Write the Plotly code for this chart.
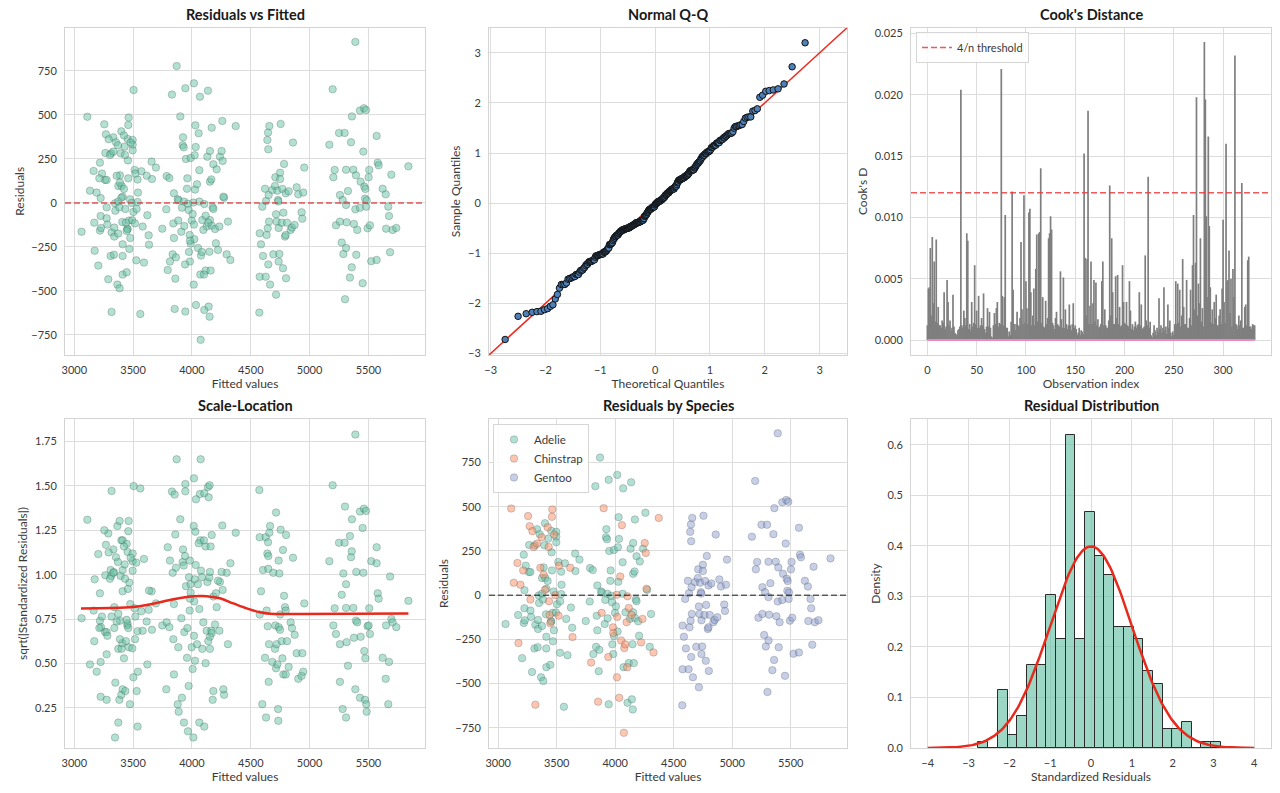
import numpy as np
import plotly.graph_objects as go
from statistics import NormalDist

# ---------------- data ----------------
adelie_fitted = [3062, 3170, 3204, 3218, 3218, 3224, 3224, 3235, 3227, 3261,
                 3264, 3275, 3275, 3281, 3289, 3309, 3314, 3317, 3332, 3337,
                 3340, 3340, 3346, 3349, 3354, 3366, 3374, 3374, 3374, 3383,
                 3385, 3388, 3394, 3400, 3402, 3408, 3411, 3411, 3411, 3411,
                 3422, 3428, 3445, 3451, 3453, 3453, 3456, 3459, 3465, 3468,
                 3473, 3476, 3493, 3496, 3496, 3496, 3502, 3513, 3527, 3530,
                 3538, 3541, 3538, 3561, 3570, 3581, 3592, 3621, 3632, 3657,
                 3660, 3694,
                 3748, 3782, 3785, 3808, 3813, 3830, 3836, 3842, 3847, 3847,
                 3859, 3864, 3870, 3879, 3887, 3910, 3915, 3921, 3924, 3930,
                 3932, 3935, 3944, 3944, 3949, 3958, 3961, 3966, 3972, 3975,
                 3983, 3989, 3989, 3998, 4006, 4017, 4020, 4023, 4026, 4029,
                 4032, 4063, 4063, 4068, 4071, 4088, 4105, 4116, 4125, 4131,
                 4136, 4142, 4148, 4150, 4153, 4159, 4153, 4153, 4165, 4168,
                 4168, 4176, 4182, 4182, 4196, 4210, 4204, 4238, 4258, 4273,
                 4295, 4306]
adelie_resid = [-163, -112, -356, 229, -157, 28, -74, 167, -142, 131,
                284, 131, -87, -123, -434, -301, 282, -167, 373, -294,
                -191, -140, -2, -44, 345, -464, 97, 8, -174, -25,
                -485, 157, 282, 407, 97, -108, 36, -235, -301, -407,
                80, 320, -394, -146, 364, -150, 242, 140, -100, -261,
                21, -199, -98, 358, 331, 299, -51, 188, -326, -34,
                133, 59, 6, -631, 180, -134, -339, -70, -184, 235,
                136, 201,
                -146, -36, 153, 142, -333, 616, -292, -116, -199, 55,
                -430, -309, 778, 21, 15, -163, -27, 328, 373, 316,
                8, -131, -617, 652, 250, 81, 140, -4, -40, -278,
                -333, -231, 256, -100, -63, 680, -206, 271, 76, 441,
                318, 186, 8, 604, -407, -97, -608, -384, -134, 263,
                638, -589, -277, -646, 121, -384, 295, -97, 134, 428,
                -129, -25, 220, -34, -148, 191, -229, 263, 466, 30,
                -292, -106]

chinstrap_fitted = [3111, 3133, 3164, 3173, 3190, 3213, 3255, 3269, 3275, 3292,
                    3303, 3317, 3332, 3360, 3371, 3388, 3400, 3422, 3431, 3434,
                    3439, 3445, 3462, 3459, 3479, 3487, 3504, 3519, 3516, 3615,
                    3635,
                    3794, 3853, 3884, 3901, 3941, 3981, 3983, 4012, 4015, 4017,
                    4034, 4043, 4051, 4057, 4074, 4077, 4085, 4097, 4102, 4105,
                    4116, 4139, 4221, 4233, 4252, 4261, 4267, 4327, 4372]
chinstrap_resid = [490, 70, 182, -271, 59, 140, 447, 390, -25, 362,
                   273, -619, 292, 155, 328, 116, 30, 384, 273, -34,
                   -112, -159, 485, 443, 343, 0, 642, 167, -116, 155,
                   -237,
                   -381, -602, -100, 492, -349, -182, -214, 2, -464, -123,
                   -580, 106, -256, 396, -778, -299, -278, -153, -407, -6,
                   -72, -112, -267, -134, 295, 239, 36, -324, 437]

gentoo_fitted = [4573, 4576, 4576, 4587, 4598, 4604, 4621, 4627, 4630, 4635,
                 4641, 4644, 4649, 4647, 4649, 4652, 4655, 4658, 4664, 4683,
                 4692, 4706, 4709, 4715, 4715, 4720, 4726, 4732, 4734, 4737,
                 4737, 4743, 4749, 4749, 4754, 4763, 4769, 4774, 4777, 4783,
                 4791, 4797, 4797, 4800, 4808, 4822, 4839, 4850, 4859, 4873,
                 4890, 4904, 4932, 4938, 4946, 4955,
                 5168, 5196, 5202, 5213, 5224, 5250, 5258, 5258, 5273, 5281,
                 5287, 5298, 5301, 5310, 5310, 5310, 5315, 5326, 5343, 5352,
                 5358, 5360, 5372, 5377, 5389, 5389, 5394, 5397, 5405, 5428,
                 5428, 5434, 5451, 5457, 5462, 5465, 5471, 5474, 5479, 5482,
                 5485, 5493, 5502, 5507, 5513, 5524, 5570, 5570, 5579, 5587,
                 5621, 5647, 5650, 5669, 5675, 5684, 5695, 5706, 5737, 5840]
gentoo_resid = [-623, -419, -172, -235, -21, -301, 81, -419, 11, -182,
                358, -144, 305, 400, -349, 45, -106, 437, -464, 74,
                -292, 97, 146, -64, -521, -106, 70, 17, 9, -333,
                -142, -290, 172, 136, 449, -112, 80, -371, -55, 222,
                -191, -182, 55, -428, -112, 66, -153, -140, 343, -125,
                89, 49, -53, -89, 59, 201,
                331, 646, 146, 188, -127, 398, 45, -106, -225, 17,
                -290, 398, -547, 189, -256, -11, -110, 68, -424, 345,
                -366, 492, 189, -119, -36, 915, 157, -295, -153, 525,
                -27, 121, -456, 292, 538, 93, 25, 80, 528, -21,
                15, -144, 146, 188, -127, -331, -324, 381, 229, 214,
                81, 49, -146, -21, -74, -280, 161, -153, -142, 208]

resid_std = 286.0  # residual scale (915 -> 3.2 on the Q-Q plot)

# Cook's distance per observation, in units of 1e-4
cooks_d_e4 = [12, 42, 43, 75, 20, 84, 30, 64, 15, 82, 14, 27, 12, 12, 10, 16, 14, 39, 9, 11,
              49, 31, 12, 16, 8, 10, 37, 11, 6, 5, 4, 8, 9, 11, 204, 12, 10, 24, 18, 12,
              87, 81, 9, 13, 8, 31, 11, 14, 61, 13, 24, 10, 36, 10, 12, 18, 12, 38, 9, 6,
              11, 26, 11, 23, 10, 3, 2, 12, 22, 13, 26, 31, 11, 14, 13, 221, 36, 12, 35, 102,
              10, 10, 3, 7, 4, 15, 121, 41, 13, 8, 13, 23, 12, 11, 18, 80, 25, 13, 118, 14,
              48, 26, 13, 104, 107, 39, 12, 20, 42, 12, 58, 86, 15, 87, 88, 140, 14, 35, 11, 10,
              32, 13, 18, 83, 87, 101, 90, 14, 12, 9, 18, 23, 13, 12, 11, 56, 17, 10, 51, 10,
              25, 13, 9, 12, 29, 12, 8, 13, 30, 10, 12, 9, 4, 6, 10, 4, 8, 7, 5, 152,
              67, 20, 66, 187, 13, 28, 64, 13, 30, 49, 15, 47, 12, 17, 10, 11, 13, 48, 64, 12,
              25, 12, 10, 10, 16, 126, 20, 83, 39, 13, 13, 52, 18, 53, 13, 27, 11, 12, 61, 31,
              14, 13, 31, 12, 11, 48, 24, 9, 13, 8, 11, 15, 10, 12, 13, 39, 12, 29, 9, 10,
              11, 69, 16, 12, 133, 10, 15, 4, 2, 6, 12, 8, 4, 10, 7, 34, 9, 12, 6, 10,
              43, 8, 11, 5, 29, 10, 16, 6, 3, 7, 4, 13, 48, 13, 46, 14, 41, 11, 20, 66,
              27, 13, 13, 49, 10, 10, 18, 41, 12, 61, 102, 25, 63, 198, 20, 46, 30, 83, 15, 26,
              11, 243, 196, 101, 35, 166, 93, 43, 14, 25, 13, 31, 18, 37, 12, 12, 20, 25, 13, 42,
              98, 31, 14, 160, 48, 49, 73, 22, 50, 11, 58, 35, 232, 13, 12, 9, 20, 12, 16, 128,
              10, 10, 27, 29, 12, 65, 68, 11, 11, 9, 13, 12, 12]
cooks_threshold = 4 / 333

# Histogram of standardized residuals (25 bins)
hist_start = -2.757
hist_width = 0.2375
hist_counts = [1, 0, 9, 2, 5, 13, 13, 24, 17, 49, 17, 37, 30, 27, 19, 19, 17, 12, 10, 3,
               3, 4, 0, 1, 1]

# LOWESS smooth on the scale-location plot
lowess_x = [3057, 3303, 3502, 3615, 3728, 3842, 3955, 4068, 4125, 4238, 4352, 4465,
            4578, 4664, 4919, 5840]
lowess_y = [0.810, 0.812, 0.818, 0.829, 0.845, 0.862, 0.874, 0.880, 0.879, 0.867,
            0.838, 0.810, 0.788, 0.780, 0.779, 0.782]

# ---------------- derived ----------------
GREEN, ORANGE, BLUE, PINK = '#66c2a5', '#fc8d62', '#8da0cb', '#e78ac3'
RED = '#e8291c'
FONT = 'Lato, "Source Sans Pro", "Noto Sans", sans-serif'
TXT = '#3a3a3a'

fitted_all = np.array(adelie_fitted + chinstrap_fitted + gentoo_fitted, float)
resid_all = np.array(adelie_resid + chinstrap_resid + gentoo_resid, float)
std_resid = resid_all / resid_std
sqrt_abs = np.sqrt(np.abs(std_resid))

n = len(std_resid)
sample_q = np.sort(std_resid)
nd = NormalDist()
theo_q = np.array([nd.inv_cdf(i / (n + 1)) for i in range(1, n + 1)])

cooks_d = [v / 10000 for v in cooks_d_e4]
idx = list(range(len(cooks_d)))
stem_x, stem_y = [], []
for i, d in zip(idx, cooks_d):
    stem_x += [i, i, None]
    stem_y += [0, d, None]

hist_centers = [hist_start + hist_width * (i + 0.5) for i in range(len(hist_counts))]
hist_density = [c / (sum(hist_counts) * hist_width) for c in hist_counts]
curve_x = np.linspace(-4, 4, 200)
curve_y = np.exp(-curve_x ** 2 / 2) / np.sqrt(2 * np.pi)

# ---------------- figure ----------------
W, H = 1280, 793
colx = [(65, 425), (489, 847), (911, 1271)]
rowy = [(27.7, 355), (419, 748)]


def xd(c):
    return [colx[c][0] / W, colx[c][1] / W]


def yd(r):
    return [1 - rowy[r][1] / H, 1 - rowy[r][0] / H]


fig = go.Figure()

scat_marker = dict(size=7.5, color='rgba(102,194,165,0.5)',
                   line=dict(color='rgba(40,60,50,0.35)', width=0.7))

# 1 Residuals vs Fitted
fig.add_trace(go.Scatter(x=fitted_all, y=resid_all, mode='markers', marker=scat_marker,
                         showlegend=False, xaxis='x', yaxis='y'))

# 2 Q-Q
fig.add_trace(go.Scatter(x=[-3.03, 3.5], y=[-3.03, 3.5], mode='lines',
                         line=dict(color='#ee2a1f', width=1.5), showlegend=False,
                         xaxis='x2', yaxis='y2'))
fig.add_trace(go.Scatter(x=theo_q, y=sample_q, mode='markers',
                         marker=dict(size=6.5, color='#4f81b8', line=dict(color='#111', width=1)),
                         showlegend=False, xaxis='x2', yaxis='y2'))

# 3 Cook's distance
fig.add_trace(go.Scatter(x=stem_x, y=stem_y, mode='lines',
                         line=dict(color='#7f7f7f', width=1.7), showlegend=False,
                         xaxis='x3', yaxis='y3', connectgaps=False))
fig.add_trace(go.Scatter(x=[idx[0], idx[-1]], y=[0, 0], mode='lines',
                         line=dict(color=PINK, width=2), showlegend=False,
                         xaxis='x3', yaxis='y3'))
fig.add_trace(go.Scatter(x=[-16.6, 348.6], y=[cooks_threshold] * 2, mode='lines',
                         line=dict(color='rgba(235,60,60,0.85)', width=1.5, dash='6px,3px'),
                         name='4/n threshold', legend='legend2', showlegend=True,
                         xaxis='x3', yaxis='y3'))

# 4 Scale-Location
fig.add_trace(go.Scatter(x=fitted_all, y=sqrt_abs, mode='markers', marker=scat_marker,
                         showlegend=False, xaxis='x4', yaxis='y4'))
fig.add_trace(go.Scatter(x=lowess_x, y=lowess_y, mode='lines', line=dict(color=RED, width=2.5),
                         line_shape='spline', showlegend=False, xaxis='x4', yaxis='y4'))

# 5 Residuals by species
for name, fx, ry, col in [('Adelie', adelie_fitted, adelie_resid, (102, 194, 165)),
                          ('Chinstrap', chinstrap_fitted, chinstrap_resid, (252, 141, 98)),
                          ('Gentoo', gentoo_fitted, gentoo_resid, (141, 160, 203))]:
    fig.add_trace(go.Scatter(x=fx, y=ry, mode='markers', name=name,
                             marker=dict(size=7.5, color='rgba(%d,%d,%d,0.5)' % col,
                                         line=dict(color='rgba(40,40,60,0.3)', width=0.7)),
                             legend='legend', xaxis='x5', yaxis='y5'))

# 6 Residual distribution
fig.add_trace(go.Bar(x=hist_centers, y=hist_density, width=hist_width,
                     marker=dict(color='rgba(102,194,165,0.65)', line=dict(color='#2b2b2b', width=1)),
                     showlegend=False, xaxis='x6', yaxis='y6'))
fig.add_trace(go.Scatter(x=curve_x, y=curve_y, mode='lines', line=dict(color=RED, width=2.5),
                         showlegend=False, xaxis='x6', yaxis='y6'))


def ax(domain, rng, dtick, title, anchor, fmt=None, tick0=0, standoff=4):
    d = dict(domain=domain, range=rng, dtick=dtick, tick0=tick0, anchor=anchor,
             showgrid=True, gridcolor='#dddddd', gridwidth=1, zeroline=False,
             showline=True, linecolor='#d4d4d4', linewidth=1, mirror=True,
             ticks='', ticklabelstandoff=5,
             tickfont=dict(family=FONT, size=11, color=TXT),
             title=dict(text=title, font=dict(family=FONT, size=12, color=TXT), standoff=standoff),
             automargin=False)
    if fmt:
        d['tickformat'] = fmt
    return d


fig.update_layout(
    width=W, height=H, margin=dict(l=0, r=0, t=0, b=0),
    paper_bgcolor='white', plot_bgcolor='white',
    font=dict(family=FONT, color=TXT),
    bargap=0,
    xaxis=ax(xd(0), [2921, 5981], 500, 'Fitted values', 'y'),
    yaxis=ax(yd(0), [-864, 996], 250, 'Residuals', 'x'),
    xaxis2=ax(xd(1), [-3.03, 3.5], 1, 'Theoretical Quantiles', 'y2'),
    yaxis2=ax(yd(0), [-3.03, 3.5], 1, 'Sample Quantiles', 'x2'),
    xaxis3=ax(xd(2), [-16.6, 348.6], 50, 'Observation index', 'y3'),
    yaxis3=ax(yd(0), [-0.00122, 0.02546], 0.005, "Cook's D", 'x3', fmt='.3f'),
    xaxis4=ax(xd(0), [2921, 5981], 500, 'Fitted values', 'y4'),
    yaxis4=ax(yd(1), [0.0244, 1.876], 0.25, 'sqrt(|Standardized Residuals|)', 'x4', fmt='.2f'),
    xaxis5=ax(xd(1), [2921, 5981], 500, 'Fitted values', 'y5'),
    yaxis5=ax(yd(1), [-864, 996], 250, 'Residuals', 'x5'),
    xaxis6=ax(xd(2), [-4.41, 4.41], 1, 'Standardized Residuals', 'y6'),
    yaxis6=ax(yd(1), [0, 0.651], 0.1, 'Density', 'x6', fmt='.1f'),
    legend=dict(x=493 / W, y=1 - 424 / H, xanchor='left', yanchor='top',
                bgcolor='rgba(255,255,255,0.85)', bordercolor='#d6d6d6', borderwidth=1,
                font=dict(family=FONT, size=11.5, color=TXT), tracegroupgap=0),
    legend2=dict(x=916 / W, y=1 - 32 / H, xanchor='left', yanchor='top',
                 bgcolor='rgba(255,255,255,0.85)', bordercolor='#d6d6d6', borderwidth=1,
                 font=dict(family=FONT, size=11, color=TXT), itemwidth=30),
    shapes=[
        dict(type='line', xref='x domain', yref='y', x0=0, x1=1, y0=0, y1=0,
             line=dict(color='rgba(225,45,45,0.8)', width=1.5, dash='6px,3px')),
        dict(type='line', xref='x5 domain', yref='y5', x0=0, x1=1, y0=0, y1=0,
             line=dict(color='rgba(0,0,0,0.6)', width=1.5, dash='6px,3px')),
    ],
)

titles = ['Residuals vs Fitted', 'Normal Q-Q', "Cook's Distance",
          'Scale-Location', 'Residuals by Species', 'Residual Distribution']
ann = []
for k, t in enumerate(titles):
    r, c = divmod(k, 3)
    ann.append(dict(text='<b>%s</b>' % t, x=sum(xd(c)) / 2, y=yd(r)[1], xref='paper', yref='paper',
                    xanchor='center', yanchor='bottom', yshift=3, showarrow=False,
                    font=dict(family=FONT, size=14.5, color='#1a1a1a')))
fig.update_layout(annotations=ann)

fig.write_html('out.html')
